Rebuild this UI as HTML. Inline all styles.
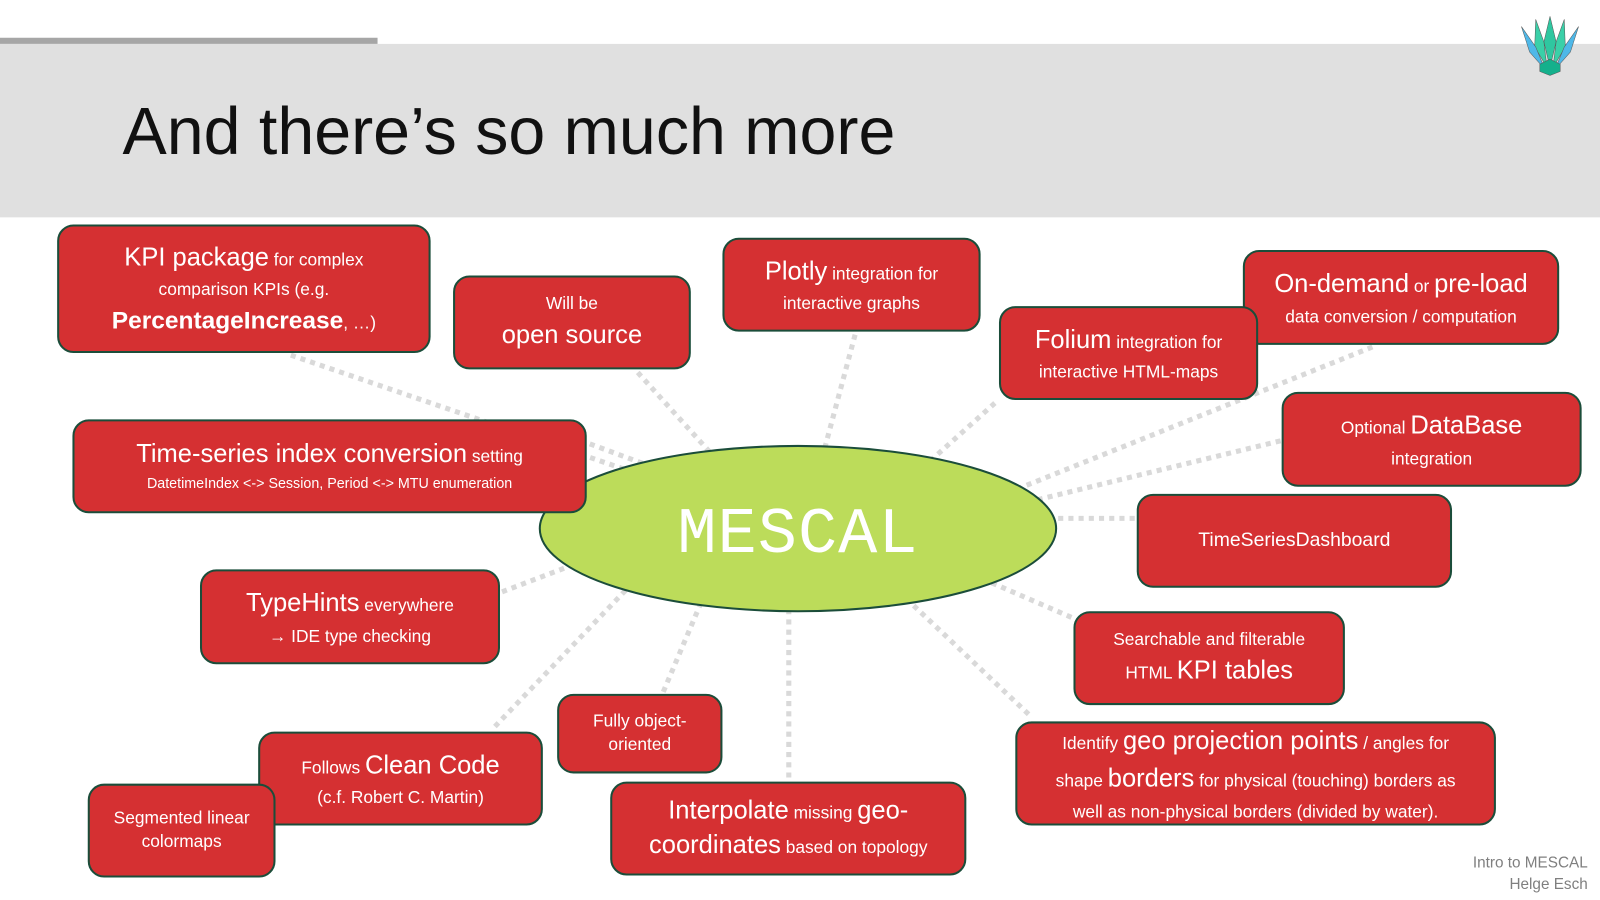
<!DOCTYPE html>
<html><head><meta charset="utf-8">
<style>
html,body{margin:0;padding:0;}
body{width:1600px;height:900px;position:relative;overflow:hidden;background:#fff;font-family:"Liberation Sans",sans-serif;}
#w{position:absolute;left:0;top:0;width:1568px;height:882px;transform:scale(1.020408);transform-origin:0 0;}
.band{position:absolute;left:0;top:43px;width:1568px;height:170px;background:#e0e0e0;}
.topbar{position:absolute;left:0;top:37px;width:370px;height:6px;background:#a6a6a6;}
h1{position:absolute;left:120px;top:91px;margin:0;font-weight:normal;font-size:65px;color:#111;}
.b{position:absolute;box-sizing:border-box;background:#d53032;border:2px solid #1b4d3a;border-radius:16px;color:#fff;display:flex;align-items:center;justify-content:center;text-align:center;font-size:17px;line-height:1.5;}
.L{font-size:25px;}
.foot{position:absolute;right:12px;top:835px;text-align:right;color:#7f7f7f;font-size:15px;line-height:21px;}
svg{position:absolute;left:0;top:0;}
</style></head><body><div id="w">
<div class="band"></div><div class="topbar"></div>
<h1>And there’s so much more</h1>
<svg width="1568" height="882">
<g stroke="#d9d9d9" stroke-width="5" stroke-dasharray="5 5" fill="none">
<line x1="285" y1="348" x2="782" y2="518"/>
<line x1="625" y1="365" x2="720" y2="470"/>
<line x1="838" y1="328" x2="800" y2="470"/>
<line x1="975" y1="395" x2="880" y2="480"/>
<line x1="1345" y1="340" x2="900" y2="518"/>
<line x1="1255" y1="432" x2="900" y2="518"/>
<line x1="1112" y1="508" x2="900" y2="508"/>
<line x1="1050" y1="605" x2="900" y2="540"/>
<line x1="1008" y1="700" x2="860" y2="560"/>
<line x1="773" y1="762" x2="773" y2="560"/>
<line x1="650" y1="678" x2="700" y2="560"/>
<line x1="485" y1="712" x2="650" y2="540"/>
<line x1="492" y1="580" x2="650" y2="520"/>
<line x1="578" y1="435" x2="700" y2="480"/>
</g>
<ellipse cx="782" cy="518" rx="253" ry="81" fill="#bcdc5a" stroke="#1b4d3a" stroke-width="2"/>
<text x="782" y="541" text-anchor="middle" font-family="Liberation Mono, monospace" font-size="64" fill="#fff" letter-spacing="1">MESCAL</text>
<g transform="translate(1519,16)">
<path d="M0,0 L-6,25 L0,50 L6,25Z" fill="#2fc7a0" stroke="#555" stroke-width="0.5"/>
<path d="M-14,3 L-15,30 L-3,50 L-6,25Z" fill="#3ad0a8" stroke="#555" stroke-width="0.5"/>
<path d="M14,3 L15,30 L3,50 L6,25Z" fill="#3ad0a8" stroke="#555" stroke-width="0.5"/>
<path d="M-28,10 L-20,35 L-5,52 L-14,30Z" fill="#4fb8e8" stroke="#555" stroke-width="0.5"/>
<path d="M28,10 L20,35 L5,52 L14,30Z" fill="#4fb8e8" stroke="#555" stroke-width="0.5"/>
<path d="M-10,47 L0,42 L10,47 L10,54 L0,58 L-10,54Z" fill="#14b08c" stroke="#555" stroke-width="0.5"/>
</g>
</svg>
<div class="b" style="left:56px;top:220px;width:366px;height:126px;"><div><span class="L">KPI package</span> for complex<br>comparison KPIs (e.g.<br><b style="font-size:24px">PercentageIncrease</b>, …)</div></div>
<div class="b" style="left:444px;top:270px;width:233px;height:92px;"><div>Will be<br><span class="L">open source</span></div></div>
<div class="b" style="left:708px;top:233px;width:253px;height:92px;"><div><span class="L">Plotly</span> integration for<br>interactive graphs</div></div>
<div class="b" style="left:1218px;top:245px;width:310px;height:93px;"><div><span class="L">On-demand</span> or <span class="L">pre-load</span><br>data conversion / computation</div></div>
<div class="b" style="left:979px;top:300px;width:254px;height:92px;"><div><span class="L">Folium</span> integration for<br>interactive HTML-maps</div></div>
<div class="b" style="left:71px;top:411px;width:504px;height:92px;line-height:1.35"><div><span class="L">Time-series index conversion</span> setting<br><span style="font-size:14px">DatetimeIndex &lt;-&gt; Session, Period &lt;-&gt; MTU enumeration</span></div></div>
<div class="b" style="left:1256px;top:384px;width:294px;height:93px;"><div>Optional <span class="L">DataBase</span><br>integration</div></div>
<div class="b" style="left:1114px;top:484px;width:309px;height:92px;font-size:19px;"><div>TimeSeriesDashboard</div></div>
<div class="b" style="left:196px;top:558px;width:294px;height:93px;"><div><span class="L">TypeHints</span> everywhere<br>→ IDE type checking</div></div>
<div class="b" style="left:1052px;top:599px;width:266px;height:92px;"><div>Searchable and filterable<br>HTML <span class="L">KPI tables</span></div></div>
<div class="b" style="left:546px;top:680px;width:162px;height:78px;line-height:1.35"><div>Fully object-<br>oriented</div></div>
<div class="b" style="left:253px;top:717px;width:279px;height:92px;"><div>Follows <span class="L">Clean Code</span><br>(c.f. Robert C. Martin)</div></div>
<div class="b" style="left:86px;top:768px;width:184px;height:92px;line-height:1.35"><div>Segmented linear<br>colormaps</div></div>
<div class="b" style="left:598px;top:766px;width:349px;height:92px;line-height:1.35"><div><span class="L">Interpolate</span> missing <span class="L">geo-<br>coordinates</span> based on topology</div></div>
<div class="b" style="left:995px;top:707px;width:471px;height:102px;line-height:1.5"><div>Identify <span class="L">geo projection points</span> / angles for<br>shape <span class="L">borders</span> for physical (touching) borders as<br>well as non-physical borders (divided by water).</div></div>
<div class="foot">Intro to MESCAL<br>Helge Esch</div>
</div></body></html>
